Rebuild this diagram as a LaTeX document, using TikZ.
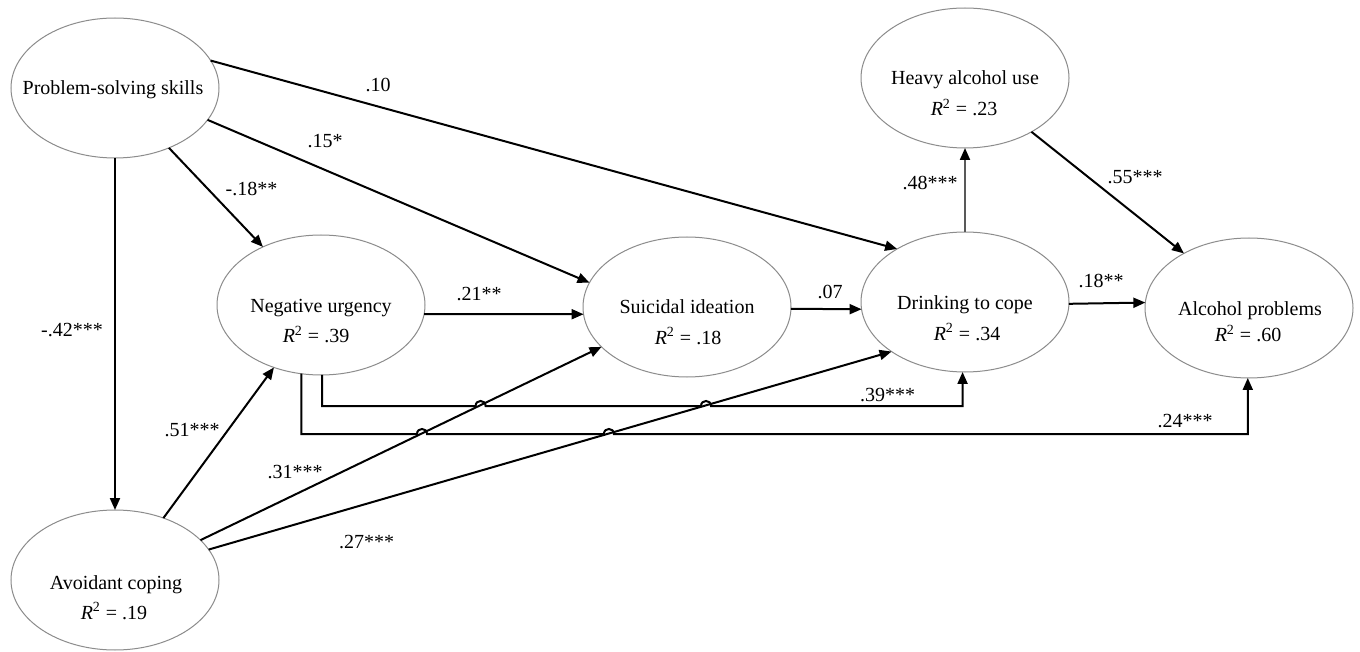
\documentclass[tikz,border=0pt]{standalone}
\usepackage{fontspec}
\setmainfont{Liberation Serif}
\usetikzlibrary{arrows.meta,shapes.geometric}
\begin{document}
\begin{tikzpicture}[x=0.5pt,y=-0.5pt,
  ell/.style={ellipse,draw=black!45,line width=0.5pt,minimum width=104pt,minimum height=70pt,inner sep=0pt,outer sep=0pt},
  txt/.style={anchor=base,inner sep=0pt,font=\fontsize{10}{12}\selectfont},
  lab/.style={inner sep=0pt,font=\fontsize{10}{12}\selectfont},
  conn/.style={line width=1pt,draw=black},
  arr/.style={conn,-{Triangle[length=6pt,width=5pt]}},
  grayarr/.style={line width=1pt,draw=black!65,-{Triangle[length=6pt,width=5pt,color=black]}}]
\fill[white] (0,0) rectangle (1360,652);
\useasboundingbox (0,0) rectangle (1360,652);

% latent variable ellipses
\node[ell] (PS)  at (115,88)   {};
\node[ell] (AC)  at (115,580)  {};
\node[ell] (NU)  at (321,305)  {};
\node[ell] (SI)  at (687,307)  {};
\node[ell] (DC)  at (965,302)  {};
\node[ell] (HAU) at (965,78)   {};
\node[ell] (AP)  at (1249,308) {};

% texts
\node[txt] (PSt)  at (113,95)   {Problem-solving skills};
\node[txt] (ACt)  at (116,589)  {Avoidant coping};
\node[txt] (ACr)  at (114,619)  {\textit{R}\textsuperscript{2} = .19};
\node[txt] (NUt)  at (321,313)  {Negative urgency};
\node[txt] (NUr)  at (316,343)  {\textit{R}\textsuperscript{2} = .39};
\node[txt] (SIt)  at (687,314)  {Suicidal ideation};
\node[txt] (SIr)  at (688,344)  {\textit{R}\textsuperscript{2} = .18};
\node[txt] (DCt)  at (965,310)  {Drinking to cope};
\node[txt] (DCr)  at (967,340)  {\textit{R}\textsuperscript{2} = .34};
\node[txt] (HAUt) at (965,85)   {Heavy alcohol use};
\node[txt] (HAUr) at (964,116)  {\textit{R}\textsuperscript{2} = .23};
\node[txt] (APt)  at (1250,315) {Alcohol problems};
\node[txt] (APr)  at (1248,342) {\textit{R}\textsuperscript{2} = .60};

% straight paths
\draw[arr] (PS.south) -- (AC.north);
\draw[arr] (PS.312) -- (NU.135);
\draw[arr] (PS.341.9) -- (SI.166.2);
\draw[arr] (PS.16.2) -- (DC.142.1);
\draw[arr] (AC.52.7) -- (NU.233.6);
\draw[arr] (AC.25.2) -- (SI.205.75);
\draw[arr] (AC.18.07) -- (DC.214.8);
\draw[arr] (NU.-5.5) -- (SI.184.4);
\draw[arr] (SI.-1.65) -- (DC.184.4);
\draw[arr] (DC.-1.1) -- (AP.177.8);
\draw[grayarr] (DC.north) -- (HAU.south);
\draw[arr] (HAU.321.1) -- (AP.140.2);

% orthogonal paths with hops
\draw[arr] (NU.271.6) |- (475.6,406)
  .. controls (475.6,399.3) and (485.6,399.3) .. (485.6,406)
  -- (701,406)
  .. controls (701,399.3) and (711,399.3) .. (711,406)
  -| (DC.268.4);
\draw[arr] (NU.254.6) |- (417,434)
  .. controls (417,427.3) and (427,427.3) .. (427,434)
  -- (603.9,434)
  .. controls (603.9,427.3) and (613.9,427.3) .. (613.9,434)
  -| (AP.269.2);

% coefficients
\node[lab] (l10)  at (378,85)    {.10};
\node[lab] (l15)  at (325,141)   {.15*};
\node[lab] (l18n) at (251.5,188.5) {-.18**};
\node[lab] (l42)  at (72,330)    {-.42***};
\node[lab] (l51)  at (192,430)   {.51***};
\node[lab] (l31)  at (295,472)   {.31***};
\node[lab] (l27)  at (366.5,542) {.27***};
\node[lab] (l21)  at (479,294)   {.21**};
\node[lab] (l07)  at (830,292)   {.07};
\node[lab] (l18)  at (1101,280.5) {.18**};
\node[lab] (l48)  at (930,182.5) {.48***};
\node[lab] (l55)  at (1135,177)  {.55***};
\node[lab] (l39)  at (887.5,395) {.39***};
\node[lab] (l24)  at (1185,421)  {.24***};
\end{tikzpicture}
\end{document}
